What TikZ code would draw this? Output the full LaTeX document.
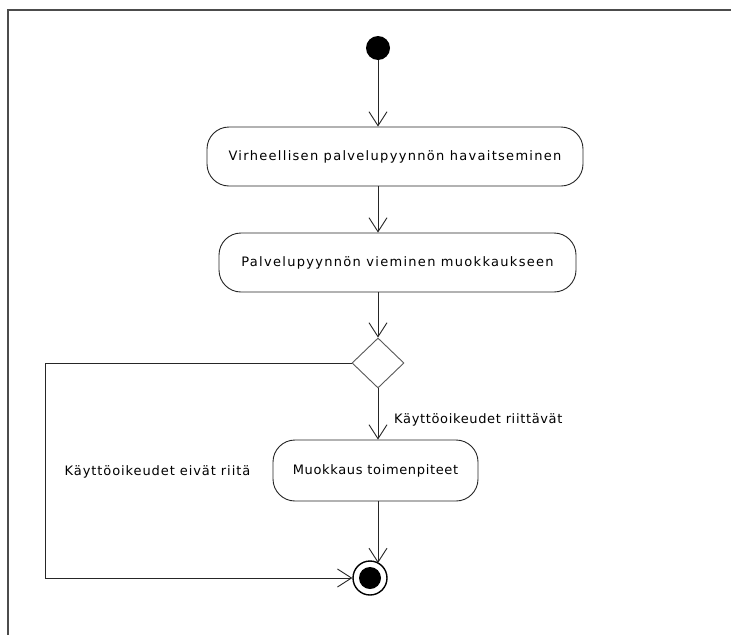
\documentclass[tikz,border=0pt]{standalone}
\usepackage{fontspec}
\setmainfont{DejaVu Sans}
% letter-spaced cuts of the same face for the different labels
\newfontfamily\widefont[LetterSpace=10]{DejaVu Sans}
\newfontfamily\midfont[LetterSpace=7]{DejaVu Sans}
\newfontfamily\tightfont[LetterSpace=5]{DejaVu Sans}
\usetikzlibrary{arrows.meta,shapes.geometric}
\begin{document}
\begin{tikzpicture}[x=1pt,y=-1pt,
  font=\fontsize{13}{16}\selectfont,
  flow/.style={draw=black!85,line width=0.9pt,-{Straight Barb[length=14pt,width=18pt,line width=0.9pt]}},
  activity/.style={draw=black!85,line width=0.9pt,rounded corners=22pt,inner sep=0pt,text=black},
  decision/.style={diamond,draw=black!65,line width=0.9pt,minimum width=52pt,minimum height=50pt,inner sep=0pt},
  guard/.style={text=black,inner sep=0pt}]
  % page area and frame
  \useasboundingbox (0,0) rectangle (731,635);
  \fill[white] (0,0) rectangle (731,635);
  \draw[black!70,line width=1.6pt] (731,10) -- (8,10) -- (8,635);

  % nodes
  \node[circle,fill=black,minimum size=24pt,inner sep=0pt] (start) at (378,48) {};
  \node[activity,minimum width=376pt,minimum height=59pt] (act1) at (395,156.5)
    {\widefont Virheellisen palvelupyynnön havaitseminen};
  \node[activity,minimum width=357pt,minimum height=59pt] (act2) at (397.5,262.5)
    {\widefont Palvelupyynnön vieminen muokkaukseen};
  \node[decision] (dec) at (378,363) {};
  \node[activity,minimum width=205pt,minimum height=61pt] (act3) at (375.5,470.5)
    {\tightfont Muokkaus toimenpiteet};
  \node[circle,draw=black,line width=1.4pt,minimum size=34pt,inner sep=0pt] (final) at (370,578) {};
  \fill[black] (final.center) circle[radius=11pt];

  % guard labels
  \node[guard,anchor=west] (okguard) at (394,420) {\tightfont Käyttöoikeudet riittävät};
  \node[guard] (noguard) at (157.5,472) {\midfont Käyttöoikeudet eivät riitä};

  % connectors
  \coordinate (bend) at (45,363);
  \coordinate (finaltop) at ([xshift=8pt,yshift=15pt]final.center);
  \draw[flow] (start) -- (start |- act1.north);
  \draw[flow] (act1.south -| start) -- (act2.north -| start);
  \draw[flow] (act2.south -| dec) -- (dec.north);
  \draw[flow] (dec.south) -- (dec |- act3.north);
  \draw[flow] (act3.south -| dec) -- (finaltop);
  \draw[flow] (dec.west) -- (bend) |- (final.west);
\end{tikzpicture}
\end{document}
